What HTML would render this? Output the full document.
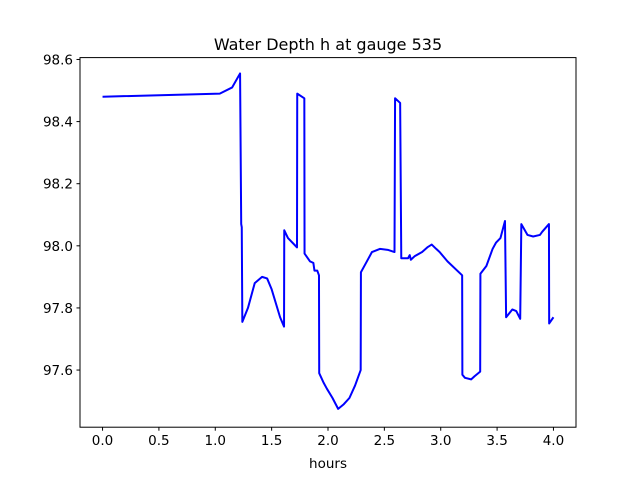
<!DOCTYPE html>
<html><head><meta charset="utf-8"><style>
body{margin:0;background:#fff;}
svg{display:block;font-family:"DejaVu Sans","Liberation Sans",sans-serif;}
</style></head><body>
<svg id="chart" width="640" height="480">
<rect width="640" height="480" fill="#fff"/>
<text x="328" y="50" text-anchor="middle" font-size="16">Water Depth h at gauge 535</text>
<text x="328" y="468" text-anchor="middle" font-size="13.5">hours</text>
<g id="ticks"></g>
<path id="line" fill="none" stroke="#0000ff" stroke-width="2" stroke-linejoin="round"/>
<rect x="80" y="57.6" width="496" height="369.6" fill="none" stroke="#000" stroke-width="1"/>
</svg>
<script>
const hours=[0,1.04,1.15,1.22,1.23,1.235,1.24,1.29,1.35,1.415,1.46,1.50,1.575,1.61,1.612,1.645,1.725,1.727,1.79,1.792,1.84,1.87,1.88,1.905,1.92,1.922,1.96,1.99,2.04,2.09,2.14,2.19,2.24,2.29,2.292,2.33,2.39,2.46,2.53,2.59,2.595,2.64,2.65,2.71,2.725,2.735,2.77,2.835,2.885,2.92,2.96,2.99,3.06,3.19,3.192,3.215,3.27,3.30,3.35,3.352,3.405,3.46,3.49,3.53,3.57,3.58,3.635,3.67,3.705,3.715,3.77,3.82,3.88,3.90,3.96,3.962,4.0];
const depth=[98.48,98.49,98.51,98.555,98.07,98.06,97.755,97.80,97.88,97.90,97.895,97.86,97.77,97.74,98.05,98.025,97.995,98.49,98.475,97.975,97.95,97.945,97.92,97.92,97.905,97.59,97.56,97.54,97.51,97.475,97.49,97.51,97.55,97.60,97.915,97.94,97.98,97.99,97.987,97.98,98.475,98.46,97.96,97.96,97.97,97.955,97.967,97.98,97.996,98.004,97.99,97.98,97.95,97.905,97.585,97.575,97.57,97.58,97.595,97.91,97.935,97.99,98.01,98.025,98.08,97.77,97.795,97.79,97.765,98.07,98.035,98.03,98.035,98.045,98.07,97.75,97.77];
const xTicks=[0,0.5,1.0,1.5,2.0,2.5,3.0,3.5,4.0];
const xTickLabels=["0.0","0.5","1.0","1.5","2.0","2.5","3.0","3.5","4.0"];
const yTicks=[97.6,97.8,98.0,98.2,98.4,98.6];
const yTickLabels=["97.6","97.8","98.0","98.2","98.4","98.6"];
const X0=80,X1=576,Y0=57.6,Y1=427.2,xmin=-0.2,xmax=4.2,ymin=97.416,ymax=98.606;
function sx(v){return X0+(v-xmin)/(xmax-xmin)*(X1-X0);}
function sy(v){return Y1-(v-ymin)/(ymax-ymin)*(Y1-Y0);}
const NS="http://www.w3.org/2000/svg";
let d="";
for(let i=0;i<hours.length;i++){d+=(i?"L":"M")+sx(hours[i]).toFixed(2)+","+sy(depth[i]).toFixed(2);}
document.getElementById("line").setAttribute("d",d);
const g=document.getElementById("ticks");
xTicks.forEach((v,i)=>{
 const l=document.createElementNS(NS,"line");
 l.setAttribute("x1",sx(v));l.setAttribute("x2",sx(v));l.setAttribute("y1",Y1);l.setAttribute("y2",Y1+3.5);l.setAttribute("stroke","#000");
 
 
 g.appendChild(l);
 const t=document.createElementNS(NS,"text");
 t.setAttribute("x",sx(v));t.setAttribute("y",Y1+18);t.setAttribute("text-anchor","middle");t.setAttribute("font-size","13.5");
 t.textContent=xTickLabels[i];
 
 
 g.appendChild(t);
});
yTicks.forEach((v,i)=>{
 const l=document.createElementNS(NS,"line");
 l.setAttribute("x1",X0-3.5);l.setAttribute("x2",X0);l.setAttribute("y1",sy(v));l.setAttribute("y2",sy(v));l.setAttribute("stroke","#000");
 
 
 g.appendChild(l);
 const t=document.createElementNS(NS,"text");
 t.setAttribute("x",X0-7);t.setAttribute("y",sy(v)+5);t.setAttribute("text-anchor","end");t.setAttribute("font-size","13.5");
 t.textContent=yTickLabels[i];
 
 
 g.appendChild(t);
});
</script>
</body></html>
